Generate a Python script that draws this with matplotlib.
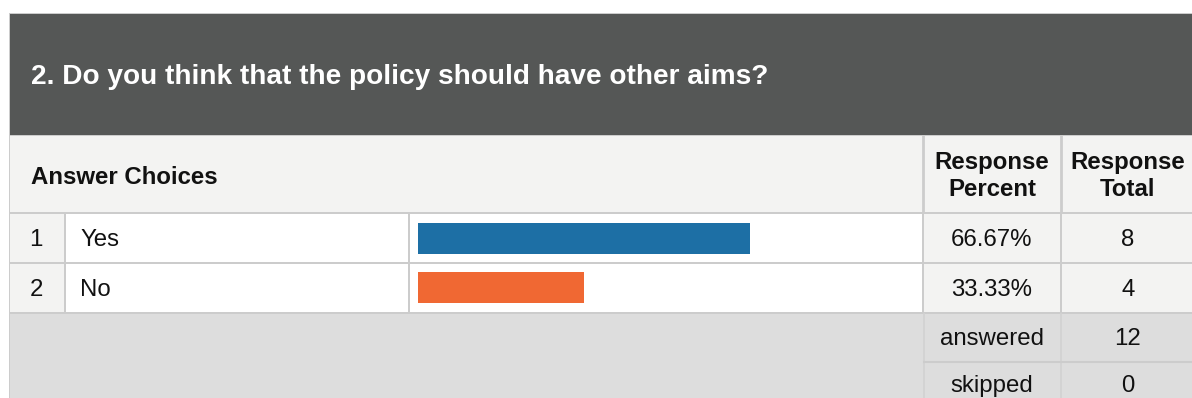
import matplotlib
matplotlib.use("Agg")
import matplotlib.pyplot as plt
import matplotlib.patches as patches

plt.rcParams['font.family'] = ['Liberation Sans', 'DejaVu Sans']

# survey data
title = "2. Do you think that the policy should have other aims?"
choices = ["Yes", "No"]
percents = [66.67, 33.33]
totals = [8, 4]
summary_labels = ["answered", "skipped"]
summary_values = [12, 0]
bar_colors = ["#1d6fa5", "#f06833"]

W, H = 1192, 398
fig = plt.figure(figsize=(W / 100, H / 100), dpi=100)

# background axes in pixel coords for the table
bg = fig.add_axes([0, 0, 1, 1])
bg.set_xlim(0, W)
bg.set_ylim(H, 0)
bg.axis('off')

def cell(x0, y0, x1, y1, color):
    bg.add_patch(patches.Rectangle((x0, y0), x1 - x0, y1 - y0, facecolor=color, edgecolor='none'))

line_c = "#cccccc"
light = "#f3f3f2"
summ = "#dddddd"
txt_c = "#111111"
fs = 17.3

# outer border
cell(9, 13, W, H, line_c)
# title bar
cell(10, 14, W, 135, "#555756")
# header row
cell(10, 136, W, 212, light)
# rows
row_top = [214, 264]
row_bot = [262, 312]
for i in range(len(choices)):
    y0, y1 = row_top[i], row_bot[i]
    cell(10, y0, 64, y1, light)
    cell(66, y0, 408, y1, "white")
    cell(410, y0, 922, y1, "white")
    cell(924, y0, 1060, y1, light)
    cell(1062, y0, W, y1, light)
# summary area
cell(10, 314, W, H, summ)
bg.plot([923, 923], [136, 212], color=line_c, lw=2)
bg.plot([1061, 1061], [136, 212], color=line_c, lw=2)
bg.plot([924, 924], [314, H], color="#d2d2d2", lw=1.2)
bg.plot([1061, 1061], [314, H], color="#d2d2d2", lw=1.2)
bg.plot([924, W], [362, 362], color=line_c, lw=1.5)

# text
bg.text(31, 77, title, color="white", fontsize=20.2, fontweight='bold', va='center', ha='left')
bg.text(31, 177, "Answer Choices", color=txt_c, fontsize=fs, fontweight='bold', va='center', ha='left')
bg.text(992, 176, "Response\nPercent", color=txt_c, fontsize=fs, fontweight='bold',
        va='center', ha='center', linespacing=1.25)
bg.text(1128, 176, "Response\nTotal", color=txt_c, fontsize=fs, fontweight='bold',
        va='center', ha='center', linespacing=1.25)

for i, ch in enumerate(choices):
    yc = (row_top[i] + row_bot[i]) / 2 + 2
    bg.text(36, yc, str(i + 1), fontsize=fs, va='center', ha='center', color=txt_c)
    bg.text(80, yc, ch, fontsize=fs, va='center', ha='left', color=txt_c)
    bg.text(992, yc, "%.2f%%" % percents[i], fontsize=fs, va='center', ha='center', color=txt_c)
    bg.text(1128, yc, str(totals[i]), fontsize=fs, va='center', ha='center', color=txt_c)

summ_y = [339, 386]
for lab, val, yc in zip(summary_labels, summary_values, summ_y):
    bg.text(992, yc, lab, fontsize=fs, va='center', ha='center', color=txt_c)
    bg.text(1128, yc, str(val), fontsize=fs, va='center', ha='center', color=txt_c)

# bar axes spanning the bar column, 0-100%
bx0, bx1 = 418, 916
by0, by1 = 214, 312
bax = fig.add_axes([bx0 / W, 1 - by1 / H, (bx1 - bx0) / W, (by1 - by0) / H])
bax.barh(range(len(choices)), percents, height=0.62, color=bar_colors)
bax.set_xlim(0, 100)
bax.set_ylim(len(choices) - 0.5, -0.5)
bax.axis('off')

fig.savefig("out.png", dpi=100)
